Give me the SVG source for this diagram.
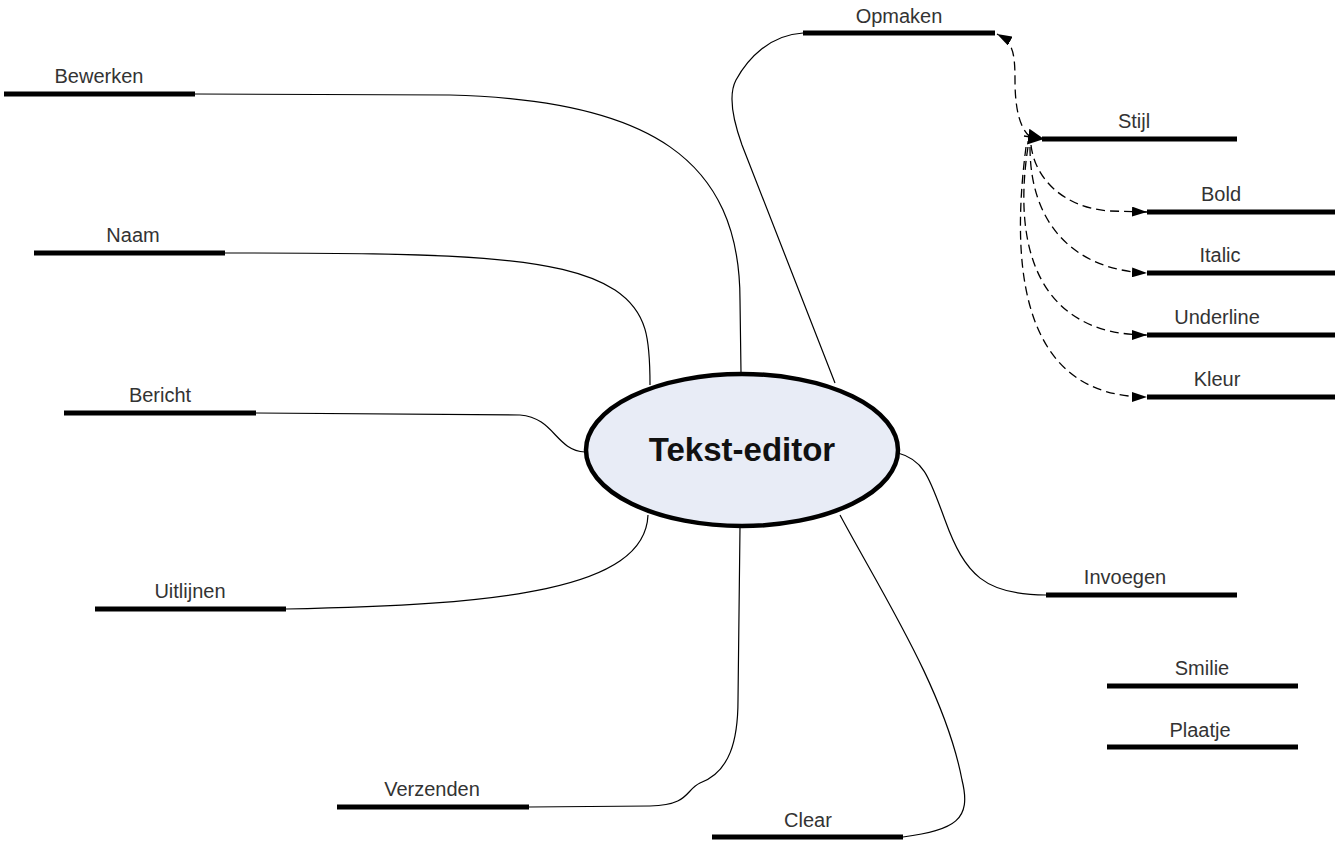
<svg xmlns="http://www.w3.org/2000/svg" width="1335" height="843" viewBox="0 0 1335 843">
<defs>
<marker id="arr" viewBox="0 0 15 10" refX="15" refY="5" markerWidth="15" markerHeight="10" markerUnits="userSpaceOnUse" orient="auto">
<path d="M0,0 L15,5 L0,10 Z" fill="#000"/>
</marker>
<marker id="arrbig" viewBox="0 0 16 16" refX="16" refY="8" markerWidth="16" markerHeight="16" markerUnits="userSpaceOnUse" orient="auto">
<path d="M0,0 L16,8 L0,16 Z" fill="#000"/>
</marker>
<style>
.bar{stroke:#000;stroke-width:5;fill:none}
.lbl{font-family:"Liberation Sans",Arial,sans-serif;font-size:20px;fill:#333;text-anchor:middle}
.con{stroke:#000;stroke-width:1.2;fill:none}
.dash{stroke:#000;stroke-width:1.3;fill:none;stroke-dasharray:9 5}
</style>
</defs>
<rect width="1335" height="843" fill="#fff"/>
<g id="connectors">
<path class="con" d="M195,94 L450,95 C650,100 740,160 740,300 L741,373"/>
<path class="con" d="M225,253 C450,253 560,255 615,290 C648,312 650,340 650,385"/>
<path class="con" d="M256,413 L520,415 C555,418 555,450 585,452"/>
<path class="con" d="M286,609 C500,605 645,590 648,515"/>
<path class="con" d="M529,807 L650,806 C690,805 685,790 700,783 C730,772 738,740 738,700 L740,527"/>
<path class="con" d="M903,837 C955,830 972,820 962,780 C945,690 880,590 840,515"/>
<path class="con" d="M803,33 C770,35 748,58 736,80 C728,95 733,120 742,145 L835,383"/>
<path class="con" d="M898,453 C925,460 930,480 945,520 C965,575 985,595 1046,595"/>
<path class="dash" d="M1030,137 C1020,128 1015,110 1015,80 C1015,50 1012,42 997,34" marker-end="url(#arr)"/>
<path class="dash" d="M1024,136 L1044,139" marker-end="url(#arrbig)"/>
<path class="dash" d="M1031,145 C1035,180 1065,208 1110,211 L1147,212" marker-end="url(#arr)"/>
<path class="dash" d="M1030,147 C1030,225 1075,270 1147,273" marker-end="url(#arr)"/>
<path class="dash" d="M1028,147 C1012,250 1040,335 1147,335" marker-end="url(#arr)"/>
<path class="dash" d="M1026,147 C1008,285 1030,397 1147,397" marker-end="url(#arr)"/>
</g>
<g id="center">
<ellipse cx="742" cy="450" rx="156" ry="76" fill="#e8ecf6" stroke="#000" stroke-width="4.5"/>
<text x="742" y="461" font-family="'Liberation Sans',Arial,sans-serif" font-size="33" font-weight="bold" fill="#111" text-anchor="middle">Tekst-editor</text>
</g>
<g id="opmaken"><line class="bar" x1="803" y1="33" x2="995" y2="33"/><text class="lbl" x="899" y="23">Opmaken</text></g>
<g id="bewerken"><line class="bar" x1="4" y1="94" x2="195" y2="94"/><text class="lbl" x="99" y="83">Bewerken</text></g>
<g id="naam"><line class="bar" x1="34" y1="253" x2="225" y2="253"/><text class="lbl" x="133" y="242">Naam</text></g>
<g id="bericht"><line class="bar" x1="64" y1="413" x2="256" y2="413"/><text class="lbl" x="160" y="402">Bericht</text></g>
<g id="uitlijnen"><line class="bar" x1="95" y1="609" x2="286" y2="609"/><text class="lbl" x="190" y="598">Uitlijnen</text></g>
<g id="verzenden"><line class="bar" x1="337" y1="807" x2="529" y2="807"/><text class="lbl" x="432" y="796">Verzenden</text></g>
<g id="clear"><line class="bar" x1="712" y1="837" x2="903" y2="837"/><text class="lbl" x="808" y="827">Clear</text></g>
<g id="invoegen"><line class="bar" x1="1046" y1="595" x2="1237" y2="595"/><text class="lbl" x="1125" y="584">Invoegen</text></g>
<g id="smilie"><line class="bar" x1="1107" y1="686" x2="1298" y2="686"/><text class="lbl" x="1202" y="675">Smilie</text></g>
<g id="plaatje"><line class="bar" x1="1107" y1="747" x2="1298" y2="747"/><text class="lbl" x="1200" y="737">Plaatje</text></g>
<g id="stijl"><line class="bar" x1="1042" y1="139" x2="1237" y2="139"/><text class="lbl" x="1134" y="128">Stijl</text></g>
<g id="bold"><line class="bar" x1="1147" y1="212" x2="1335" y2="212"/><text class="lbl" x="1221" y="201">Bold</text></g>
<g id="italic"><line class="bar" x1="1147" y1="273" x2="1335" y2="273"/><text class="lbl" x="1220" y="262">Italic</text></g>
<g id="underline"><line class="bar" x1="1147" y1="335" x2="1335" y2="335"/><text class="lbl" x="1217" y="324">Underline</text></g>
<g id="kleur"><line class="bar" x1="1147" y1="397" x2="1335" y2="397"/><text class="lbl" x="1217" y="386">Kleur</text></g>
</svg>
